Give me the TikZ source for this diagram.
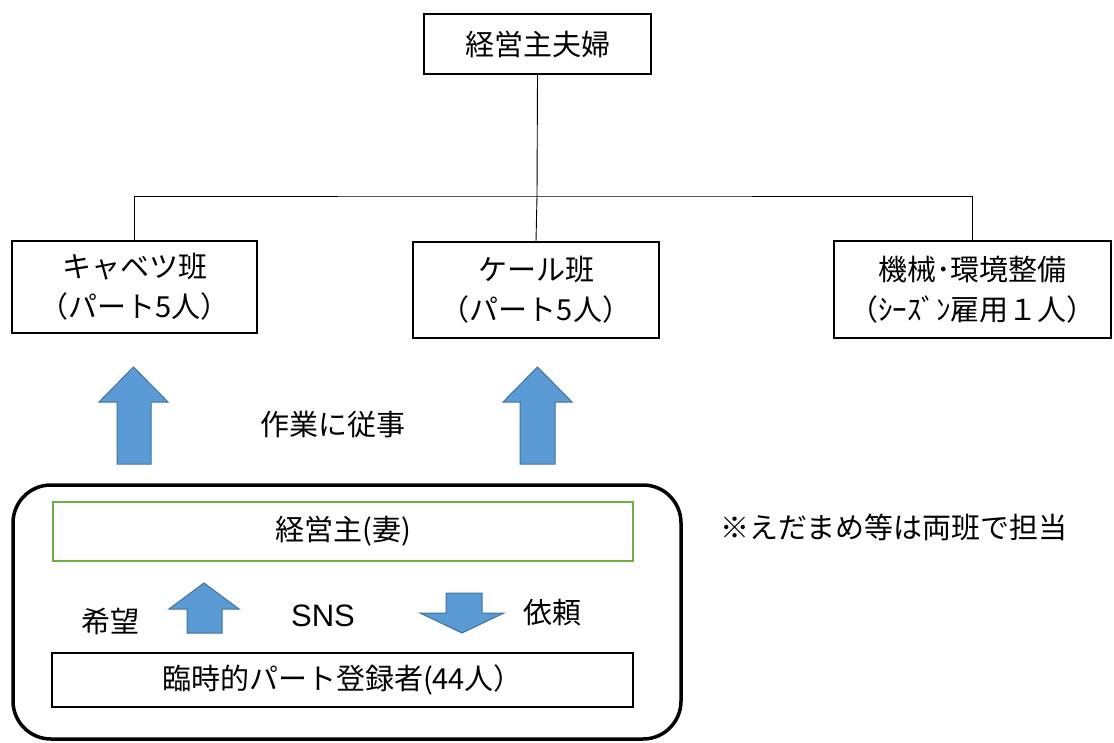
\documentclass[tikz,border=0pt]{standalone}
\usepackage{fontspec}
\setmainfont{Noto Sans CJK JP}
\newfontfamily\latinsans{Liberation Sans}
\definecolor{arrowfill}{HTML}{5B9BD5}
\definecolor{arrowline}{HTML}{41719C}
\definecolor{greenline}{HTML}{70AD47}
\begin{document}
\begin{tikzpicture}[x=1pt,y=-1pt,
  box/.style={draw=black, line width=2pt, fill=white, inner sep=0pt, align=center,
    font=\fontsize{29}{40}\selectfont},
  label/.style={inner sep=0pt, font=\fontsize{29}{34}\selectfont},
  orgline/.style={draw=black, line width=0.9pt},
  blockarrow/.style={fill=arrowfill, draw=arrowline, line width=1pt, line join=miter}
]
\useasboundingbox (0,0) rectangle (1114,743);
\fill[white] (0,0) rectangle (1114,743);

% top box
\node[box, minimum width=227pt, minimum height=60pt] (top) at (537.5,44) {経営主夫婦};

% second-level boxes
\node[box, minimum width=245pt, minimum height=92pt] (cabbage) at (134.5,287) {キャベツ班\\（パート5人）};
\node[box, minimum width=246pt, minimum height=96pt] (kale) at (536,290) {ケール班\\（パート5人）};
\node[box, minimum width=277pt, minimum height=97pt] (machine) at (972.5,289.5) {機械･環境整備\\（ｼｰｽﾞﾝ雇用１人）};

% org chart connectors
\coordinate (bus) at (537,196);
\draw[orgline] (top.south) -- (bus);
\draw[orgline] (cabbage.north) |- (bus) -| (machine.north);
\draw[orgline] (bus) -- (kale.north);

% big up arrows
\draw[blockarrow] (117,464) -- (117,402) -- (99,402) -- (133.5,367) -- (168,402) -- (151,402) -- (151,464) -- cycle;
\draw[blockarrow] (520,464) -- (520,402) -- (503,402) -- (537.5,367) -- (572,402) -- (555,402) -- (555,464) -- cycle;
\node[label] (work) at (333,425) {作業に従事};

% rounded container
\draw[line width=3.5pt, rounded corners=38pt] (13,485) rectangle (681,739);

% inner boxes
\node[draw=greenline, line width=2.5pt, minimum width=580pt, minimum height=59pt, inner sep=0pt,
  font=\fontsize{29}{34}\selectfont] (wife) at (343,531.5) {経営主(妻)};
\node[draw=black, line width=2pt, minimum width=581pt, minimum height=54pt, inner sep=0pt,
  font=\fontsize{29}{34}\selectfont] (reg) at (342.5,680) {臨時的パート登録者(44人）};

% small arrows
\draw[blockarrow] (187,633) -- (187,609) -- (169,609) -- (204,583) -- (239,609) -- (222,609) -- (222,633) -- cycle;
\draw[blockarrow] (446,593) -- (482,593) -- (482,613) -- (504,613) -- (462,633) -- (420,613) -- (446,613) -- cycle;

\node[label] (hope) at (110,621) {希望};
\node[inner sep=0pt, font=\latinsans\fontsize{31}{36}\selectfont] (sns) at (323,616) {SNS};
\node[label] (req) at (552,613) {依頼};

% note
\node[label, anchor=west] (note) at (720,527) {※えだまめ等は両班で担当};
\end{tikzpicture}
\end{document}
